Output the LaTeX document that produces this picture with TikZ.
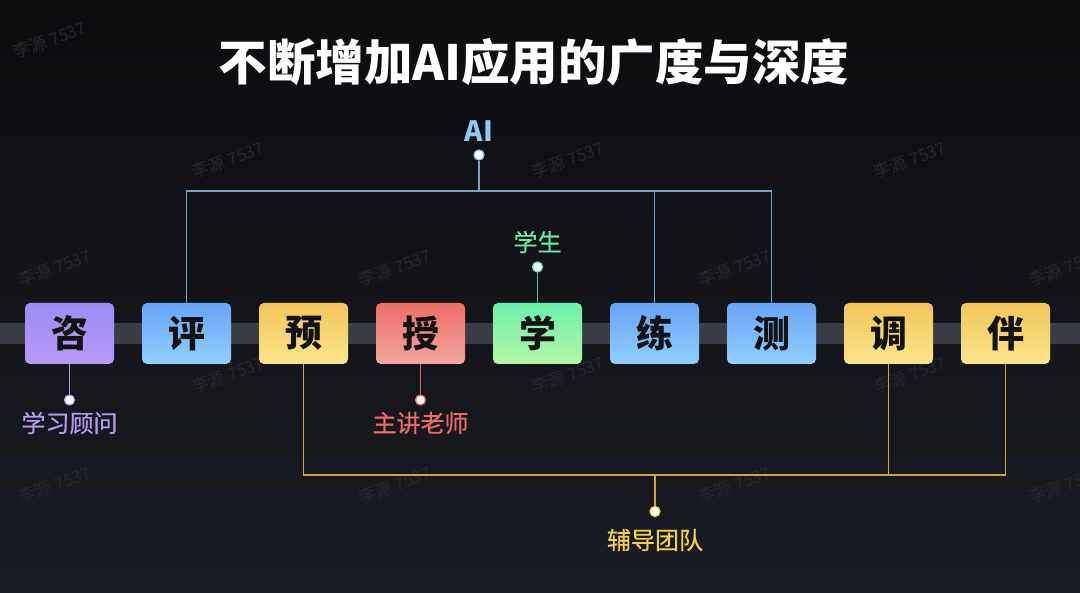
\documentclass[tikz,border=0pt]{standalone}
\usepackage{fontspec}
\newfontfamily\cjk{Noto Sans CJK SC}
\newfontfamily\cjkmed[FakeBold=0.5]{Noto Sans CJK SC}
\definecolor{bgtop}{HTML}{0C0D0F}
\definecolor{bgbot}{HTML}{191C23}
\definecolor{band}{HTML}{3A3D46}
\definecolor{puT}{HTML}{9D8CF6}\definecolor{puB}{HTML}{B89AF7}
\definecolor{puL}{HTML}{B59AF0}
\definecolor{blT}{HTML}{68A4F6}\definecolor{blB}{HTML}{90D0FD}
\definecolor{blL}{HTML}{8CCAF2}\definecolor{blLine}{HTML}{77A5C6}
\definecolor{yeT}{HTML}{F3C55A}\definecolor{yeB}{HTML}{FAE68A}
\definecolor{yeL}{HTML}{F2CF50}\definecolor{yeLine}{HTML}{C9A843}
\definecolor{reT}{HTML}{EC6E68}\definecolor{reB}{HTML}{F3A7A0}
\definecolor{reL}{HTML}{EE6A64}\definecolor{reLine}{HTML}{D86A66}
\definecolor{grT}{HTML}{6BF0AA}\definecolor{grB}{HTML}{B4F7A8}
\definecolor{grL}{HTML}{6FE6A2}\definecolor{grLine}{HTML}{5FC28E}
\definecolor{wm}{HTML}{25272D}
\tikzset{
  card/.style={rounded corners=5pt, minimum width=89pt, minimum height=61pt, inner sep=0pt,
    text=black!93, font=\cjk\bfseries\fontsize{37}{40}\selectfont},
  purplecard/.style={card, top color=puT, bottom color=puB},
  bluecard/.style={card, top color=blT, bottom color=blB},
  yellowcard/.style={card, top color=yeT, bottom color=yeB},
  redcard/.style={card, top color=reT, bottom color=reB},
  greencard/.style={card, top color=grT, bottom color=grB},
  pin/.style={circle, fill=white, draw=#1, line width=1.3pt, minimum size=10pt, inner sep=0pt},
  lab/.style={text=#1, font=\cjkmed\fontsize{24}{27}\selectfont, inner sep=0pt},
  conn/.style={draw=#1, line width=1.6pt},
  wmark/.style={text=wm, font=\cjk\fontsize{17}{19}\selectfont, rotate=20, inner sep=0pt}
}
\begin{document}
\begin{tikzpicture}[x=1pt,y=-1pt]
\useasboundingbox (0,0) rectangle (1080,593);
\shade[top color=bgtop, bottom color=bgbot] (0,0) rectangle (1080,593);
% watermarks
\node[wmark] at (50,40) {李源 7537};
\foreach \x in {55,395,735,1065}{
  \foreach \y in {268,485}{\node[wmark] at (\x,\y) {李源 7537};}}
\foreach \x in {228,568,910}{
  \foreach \y in {160,375}{\node[wmark] at (\x,\y) {李源 7537};}}
% band
\fill[band] (0,323) rectangle (1080,344);
% title
\node[text=white, font=\cjk\bfseries\fontsize{48.5}{52}\selectfont, inner sep=0pt] (title) at (534,62) {不断增加AI应用的广度与深度};
% cards
\node[purplecard] (zi)   at (69.5,333.5)  {咨};
\node[bluecard]   (ping) at (186.5,333.5) {评};
\node[yellowcard] (yu)   at (303.5,333.5) {预};
\node[redcard]    (shou) at (420.5,333.5) {授};
\node[greencard]  (xue)  at (537.5,333.5) {学};
\node[bluecard]   (lian) at (654.5,333.5) {练};
\node[bluecard]   (ce)   at (771.5,333.5) {测};
\node[yellowcard] (tiao) at (888.5,333.5) {调};
\node[yellowcard] (ban)  at (1005.5,333.5){伴};
% AI group
\node[text=blL, font=\cjk\bfseries\fontsize{28}{30}\selectfont, inner sep=0pt] (ailab) at (479,131) {AI};
\coordinate (aiJ) at (479,191);
\draw[conn=blLine] (ping.north) -- (ping.north |- aiJ) -- (ce.north |- aiJ) -- (ce.north);
\draw[conn=blLine] (lian.north) -- (lian.north |- aiJ);
\node[pin=blL] (aidot) at (479,155) {};
\draw[conn=blLine] (aiJ) -- (aidot);
% student
\node[lab=grL] (xslab) at (537.5,242) {学生};
\node[pin=grL] (xsdot) at (537.5,267) {};
\draw[conn=grLine] (xue.north) -- (xsdot);
% advisor
\node[pin=puL] (gwdot) at (69.5,400) {};
\draw[conn=puL] (zi.south) -- (gwdot);
\node[lab=puL] (gwlab) at (69.5,423) {学习顾问};
% teacher
\node[pin=reL] (lsdot) at (420.5,400) {};
\draw[conn=reLine] (shou.south) -- (lsdot);
\node[lab=reL] (lslab) at (420.5,423) {主讲老师};
% tutoring team
\coordinate (tdJ) at (655,475);
\draw[conn=yeLine] (yu.south) -- (yu.south |- tdJ) -- (ban.south |- tdJ) -- (ban.south);
\draw[conn=yeLine] (tiao.south) -- (tiao.south |- tdJ);
\node[pin=yeL] (tddot) at (655,511.5) {};
\draw[conn=yeLine] (tdJ) -- (tddot);
\node[lab=yeL] (tdlab) at (655,540) {辅导团队};
\end{tikzpicture}
\end{document}
